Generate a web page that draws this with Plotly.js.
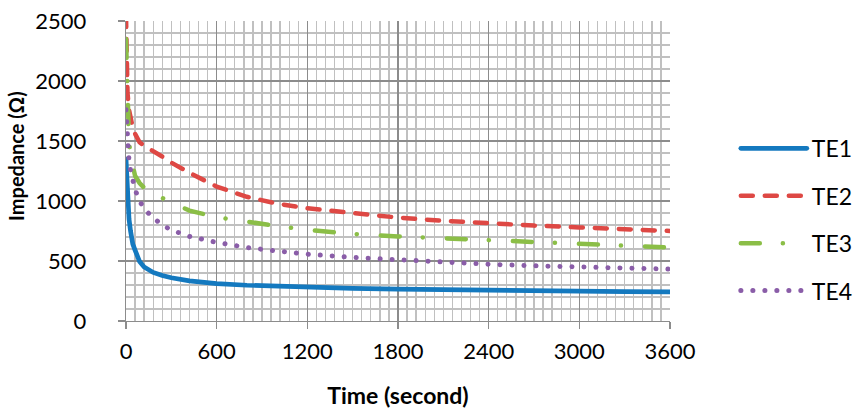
<!DOCTYPE html>
<html>
<head>
<meta charset="utf-8">
<script src="https://cdn.plot.ly/plotly-3.0.1.min.js"></script>
<style>
  html, body { margin: 0; padding: 0; background: #fff; }
  #chart { width: 857px; height: 409px; }
  .js-line { stroke-linecap: round; }
</style>
</head>
<body>
<div id="chart"></div>
<script>
// Time (second)
const time = [0, 5, 10, 20, 30, 45, 60, 90, 120, 180, 240, 300, 420, 600, 800, 1000, 1200, 1500, 1800, 2100, 2400, 2700, 3000, 3300, 3600];
// Impedance (Ω) per electrode
const te1 = [1350, 1150, 1000, 850, 750, 640, 590, 495, 450, 405, 380, 360, 335, 312, 298, 288, 281, 272, 266, 260, 256, 252, 248, 245, 242];
const te2 = [2550, 2150, 1900, 1760, 1680, 1610, 1560, 1490, 1460, 1420, 1370, 1320, 1235, 1120, 1035, 978, 940, 900, 862, 835, 812, 795, 780, 765, 750];
const te3 = [2350, 2050, 1800, 1500, 1380, 1270, 1210, 1150, 1110, 1060, 1025, 990, 920, 865, 825, 792, 760, 725, 705, 690, 672, 655, 638, 625, 612];
const te4 = [1760, 1600, 1450, 1330, 1260, 1160, 1095, 1000, 935, 860, 800, 758, 705, 655, 612, 583, 557, 530, 508, 490, 473, 460, 448, 440, 432];
const seriesNames = ['TE1', 'TE2', 'TE3', 'TE4'];
const xTicks = [0, 600, 1200, 1800, 2400, 3000, 3600];
const yTicks = [0, 500, 1000, 1500, 2000, 2500];
const xTitle = 'Time (second)';
const yTitle = 'Impedance (Ω)';

const colors = ['#1479BF', '#DE4844', '#8BBE47', '#8A5DA8'];
const dashes = ['solid', '12px,12px', '19px,23px,0.1px,24px', '0.1px,11.9px'];
const widths = [4.7, 4.5, 4.5, 5];
const vals = [te1, te2, te3, te4];

const traces = vals.map((v, i) => ({
  x: time, y: v, name: seriesNames[i], type: 'scatter', mode: 'lines',
  legendgroup: 'g' + i,
  line: { color: colors[i], width: widths[i], dash: dashes[i] },
  hoverinfo: 'skip'
}));

const fam = 'Lato, "Open Sans", sans-serif';
const tickFont = { family: fam, size: 22, color: '#000' };
const axisCommon = {
  showgrid: true, gridcolor: '#8c8c8c', gridwidth: 1.3,
  showline: true, linecolor: '#8c8c8c', linewidth: 1.3,
  ticks: 'outside', ticklen: 7, tickcolor: '#8c8c8c', tickwidth: 1.3,
  zeroline: false, tickfont: tickFont
};

const layout = {
  width: 857, height: 409,
  margin: { l: 126, r: 187, t: 21, b: 88, autoexpand: false },
  paper_bgcolor: '#fff', plot_bgcolor: '#fff',
  font: tickFont,
  showlegend: true,
  legend: {
    x: 1.121, xanchor: 'left', y: 0.647, yanchor: 'top',
    font: { family: fam, size: 23, color: '#000' }, itemwidth: 66, tracegroupgap: 14.5,
    bgcolor: 'rgba(0,0,0,0)'
  },
  annotations: [{
    text: '<b>' + yTitle + '</b>', xref: 'paper', yref: 'paper',
    x: (16 - 126) / 544, y: (321 - 156) / 300, xanchor: 'center', yanchor: 'middle',
    textangle: -90, showarrow: false, font: { family: fam, size: 20, color: '#000' }
  }],
  xaxis: Object.assign({}, axisCommon, {
    range: [0, 3600], tickvals: xTicks, ticktext: xTicks.map(String),
    ticklabelstandoff: 3,
    minor: { dtick: 60, tick0: 0, showgrid: true, gridcolor: '#c0c0c0', gridwidth: 1.3, ticks: '' },
    title: { text: '<b>' + xTitle + '</b>', font: { family: fam, size: 23, color: '#000' }, standoff: 28 }
  }),
  yaxis: Object.assign({}, axisCommon, {
    range: [0, 2500], tickvals: yTicks, ticktext: yTicks.map(String),
    minor: { dtick: 100, tick0: 0, showgrid: true, gridcolor: '#c0c0c0', gridwidth: 1.3, ticks: '' },
    ticklabelstandoff: 27
  })
};

Plotly.newPlot('chart', traces, layout, { staticPlot: true, displayModeBar: false });
</script>
</body>
</html>
